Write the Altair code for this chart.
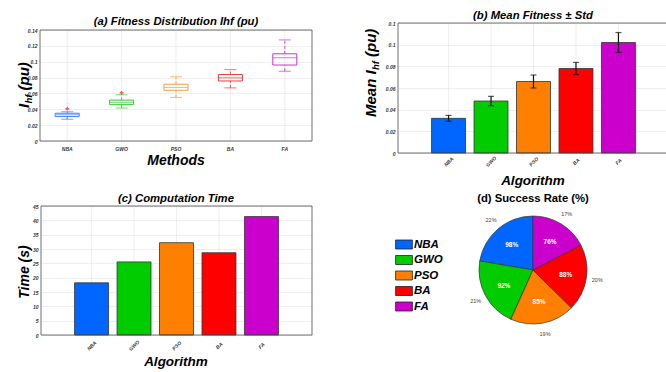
import altair as alt
import pandas as pd

FONT = "Liberation Sans"

algorithms = ["NBA", "GWO", "PSO", "BA", "FA"]
bar_colors = ["#0066ff", "#00cc00", "#ff8000", "#ff0000", "#cc00cc"]
box_colors = ["#3d84f0", "#2fcc2f", "#ff9a33", "#ee3b3b", "#cc33cc"]

# (a) box-plot statistics of Ihf for each method
whisker_low = [0.0275, 0.0416, 0.0550, 0.0670, 0.0880]
quart_1 = [0.0308, 0.0458, 0.0640, 0.0757, 0.0958]
median = [0.0330, 0.0488, 0.0675, 0.0797, 0.1050]
quart_3 = [0.0350, 0.0516, 0.0716, 0.0838, 0.1100]
whisker_high = [0.0370, 0.0583, 0.0810, 0.0900, 0.1275]
outlier_method = ["NBA", "GWO"]
outlier_value = [0.0408, 0.0608]

# (b) mean fitness and its standard deviation
mean_ihf = [0.032, 0.048, 0.066, 0.078, 0.102]
std_ihf = [0.0027, 0.0043, 0.0060, 0.0056, 0.0092]

# (c) computation time in seconds
time_s = [18.2, 25.5, 32.2, 28.7, 41.3]

# (d) success rate in percent
success_rate = [98, 92, 85, 88, 76]
slice_order = [4, 3, 2, 1, 0]

ticks_a = [0, 0.02, 0.04, 0.06, 0.08, 0.1, 0.12, 0.14]
ticks_b = [0, 0.02, 0.04, 0.06, 0.08, 0.1, 0.12]
ticks_c = [0, 5, 10, 15, 20, 25, 30, 35, 40, 45]

W, H = 666, 372
TITLE_SIZE = 11.3

box_df = pd.DataFrame({
    "alg": algorithms, "lo": whisker_low, "q1": quart_1, "med": median,
    "q3": quart_3, "hi": whisker_high,
})
out_df = pd.DataFrame({"alg": outlier_method, "v": outlier_value})
mean_df = pd.DataFrame({"alg": algorithms, "mean": mean_ihf, "std": std_ihf})
time_df = pd.DataFrame({"alg": algorithms, "t": time_s})
pie_df = pd.DataFrame({"alg": algorithms, "rate": success_rate, "slice": slice_order})
alg_df = pd.DataFrame({"alg": algorithms})

GRID = "#e3e3e3"
FRAME = "#4a4a4a"


def y_axis(offset, values):
    return alt.Axis(
        orient="left", offset=offset, values=values, format="~g", title=None,
        labelFont=FONT, labelFontSize=5, labelFontStyle="italic", labelFontWeight="bold",
        labelColor="#333333", labelPadding=3, labelFlush=False, labelOverlap=False,
        ticks=False, domain=False, grid=True, gridColor=GRID, gridWidth=0.6,
    )


def x_axis(offset, angle, pad):
    return alt.Axis(
        orient="bottom", offset=offset, title=None, labelAngle=angle,
        labelAlign="center", labelBaseline="middle", labelPadding=pad,
        labelFont=FONT, labelFontSize=5, labelFontStyle="italic", labelFontWeight="bold",
        labelColor="#333333", labelFlush=False, labelOverlap=False,
        ticks=False, domain=False, grid=False,
    )


def text(t, x, y, size, italic=True, angle=0, align="center", color="black", weight="bold"):
    return alt.Chart(pd.DataFrame({"t": [t]})).mark_text(
        font=FONT, fontSize=size, fontStyle="italic" if italic else "normal",
        fontWeight=weight, angle=angle, align=align, baseline="alphabetic", color=color,
    ).encode(text="t:N", x=alt.value(x), y=alt.value(y))


def frame(x0, x1, y0, y1):
    return alt.Chart(pd.DataFrame({"f": [0]})).mark_rect(
        fillOpacity=0, stroke=FRAME, strokeWidth=0.8
    ).encode(x=alt.value(x0), x2=alt.value(x1), y=alt.value(y0), y2=alt.value(y1))


def x_grid(xs, xax, ys, yax, top):
    return alt.Chart(alg_df).mark_rule(color=GRID, strokeWidth=0.6).encode(
        x=alt.X("alg:N", scale=xs, axis=xax, sort=algorithms),
        y=alt.YDatum(top, scale=ys, axis=yax),
        y2=alt.Y2Datum(0),
    )


# ---------- (a) box plot ----------
XA = alt.Scale(domain=algorithms, range=[40, 312], paddingInner=0, paddingOuter=0)
YA = alt.Scale(domain=[0, 0.14], range=[141, 30], nice=False)
XAX_A = x_axis(141 - H, 0, 7)
YAX_A = y_axis(-40, ticks_a)
xa = alt.X("alg:N", scale=XA, axis=XAX_A, sort=algorithms)
box_col = alt.Color("alg:N", scale=alt.Scale(domain=algorithms, range=box_colors), legend=None)

base_a = alt.Chart(box_df)
panel_a = alt.layer(
    x_grid(XA, XAX_A, YA, YAX_A, 0.14),
    base_a.mark_rule(strokeDash=[3, 2], strokeWidth=0.9).encode(
        x=xa, y=alt.Y("lo:Q", scale=YA, axis=YAX_A), y2="q1:Q", color=box_col),
    base_a.mark_rule(strokeDash=[3, 2], strokeWidth=0.9).encode(
        x=xa, y=alt.Y("q3:Q", scale=YA, axis=YAX_A), y2="hi:Q", color=box_col),
    base_a.mark_tick(size=12, thickness=1).encode(
        x=xa, y=alt.Y("lo:Q", scale=YA, axis=YAX_A), color=box_col),
    base_a.mark_tick(size=12, thickness=1).encode(
        x=xa, y=alt.Y("hi:Q", scale=YA, axis=YAX_A), color=box_col),
    base_a.mark_bar(filled=False, width=24, strokeWidth=1).encode(
        x=xa, y=alt.Y("q1:Q", scale=YA, axis=YAX_A), y2="q3:Q", color=box_col),
    base_a.mark_tick(size=24, thickness=1).encode(
        x=xa, y=alt.Y("med:Q", scale=YA, axis=YAX_A), color=box_col),
    alt.Chart(out_df).mark_point(shape="cross", filled=True, size=14, color="#ff1a1a").encode(
        x=alt.X("alg:N", scale=XA, axis=XAX_A, sort=algorithms),
        y=alt.Y("v:Q", scale=YA, axis=YAX_A)),
    frame(40, 312, 30, 141),
)

# ---------- (b) mean fitness with std error bars ----------
XB = alt.Scale(domain=algorithms, range=[398, 669], paddingInner=0.2, paddingOuter=0.79)
YB = alt.Scale(domain=[0, 0.12], range=[153, 23], nice=False)
XAX_B = x_axis(153 - H, -45, 8)
YAX_B = y_axis(-398, ticks_b)
xb = alt.X("alg:N", scale=XB, axis=XAX_B, sort=algorithms)
bar_col = alt.Color("alg:N", scale=alt.Scale(domain=algorithms, range=bar_colors), legend=None)

base_b = alt.Chart(mean_df).transform_calculate(
    lo="datum.mean - datum.std", hi="datum.mean + datum.std")
panel_b = alt.layer(
    x_grid(XB, XAX_B, YB, YAX_B, 0.12),
    base_b.mark_bar(stroke="#333333", strokeWidth=0.8).encode(
        x=xb, y=alt.Y("mean:Q", scale=YB, axis=YAX_B), color=bar_col),
    base_b.mark_rule(color="#111111", strokeWidth=1.2).encode(
        x=xb, y=alt.Y("lo:Q", scale=YB, axis=YAX_B), y2="hi:Q"),
    base_b.mark_tick(size=6, thickness=1.2, color="#111111").encode(
        x=xb, y=alt.Y("lo:Q", scale=YB, axis=YAX_B)),
    base_b.mark_tick(size=6, thickness=1.2, color="#111111").encode(
        x=xb, y=alt.Y("hi:Q", scale=YB, axis=YAX_B)),
    frame(398, 669, 23, 153),
)

# ---------- (c) computation time ----------
XC = alt.Scale(domain=algorithms, range=[41, 312], paddingInner=0.2, paddingOuter=0.79)
YC = alt.Scale(domain=[0, 45], range=[335, 206], nice=False)
XAX_C = x_axis(335 - H, -45, 10)
YAX_C = y_axis(-41, ticks_c)
panel_c = alt.layer(
    x_grid(XC, XAX_C, YC, YAX_C, 45),
    alt.Chart(time_df).mark_bar(stroke="#333333", strokeWidth=0.8).encode(
        x=alt.X("alg:N", scale=XC, axis=XAX_C, sort=algorithms),
        y=alt.Y("t:Q", scale=YC, axis=YAX_C),
        color=bar_col),
    frame(41, 312, 206, 335),
)

# ---------- (d) success-rate pie ----------
pie_legend = alt.Legend(
    orient="none", legendX=397.5, legendY=238, title=None, padding=0,
    symbolType="M-1.4,-0.75H1.4V0.75H-1.4Z", symbolSize=144,
    symbolStrokeColor="#222222", symbolStrokeWidth=0.8, symbolOpacity=1,
    labelFont=FONT, labelFontSize=11.5, labelFontStyle="italic", labelFontWeight="bold",
    labelColor="black", labelOffset=3.5, rowPadding=2.5,
)
theta = alt.Theta("rate:Q", stack=True)
order = alt.Order("slice:Q")
base_d = alt.Chart(pie_df).transform_joinaggregate(total="sum(rate)").transform_calculate(
    share="format(datum.rate / datum.total, '.0%')", inner="datum.rate + '%'")
panel_d = alt.layer(
    base_d.mark_arc(outerRadius=54, stroke="#333333", strokeWidth=0.7).encode(
        theta=theta, order=order,
        color=alt.Color("alg:N", scale=alt.Scale(domain=algorithms, range=bar_colors),
                        legend=pie_legend),
        x=alt.value(533), y=alt.value(270)),
    base_d.mark_text(radius=33, font=FONT, fontSize=6.5, fontWeight="bold", color="white").encode(
        theta=theta, order=order, detail="alg:N", text="inner:N",
        x=alt.value(533), y=alt.value(270)),
    base_d.mark_text(radius=65, font=FONT, fontSize=5.5, color="#444444").encode(
        theta=theta, order=order, detail="alg:N", text="share:N",
        x=alt.value(533), y=alt.value(270)),
)

# ---------- titles (y titles are built piecewise for the subscript) ----------
titles = [
    text("(a) Fitness Distribution Ihf (pu)", 176, 25, TITLE_SIZE),
    text("Methods", 176, 165, 14),
    text("I", 28.5, 108, 15, angle=270, align="left"),
    text("hf", 31.5, 103.5, 9.5, angle=270, align="left"),
    text("(pu)", 28.5, 90.5, 15, angle=270, align="left"),
    text("(b) Mean Fitness \u00b1 Std", 533, 19, TITLE_SIZE),
    text("Algorithm", 533, 185, 13.5),
    text("Mean", 376, 117, 15, angle=270, align="left"),
    text("I", 376, 74.5, 15, angle=270, align="left"),
    text("hf", 379, 70, 9.5, angle=270, align="left"),
    text("(pu)", 376, 57, 15, angle=270, align="left"),
    text("(c) Computation Time", 176, 202, TITLE_SIZE),
    text("Algorithm", 176, 366, 13.5),
    text("Time (s)", 29, 272, 14, angle=270),
    text("(d) Success Rate (%)", 533, 202, TITLE_SIZE, italic=False),
]

chart = alt.layer(panel_a, panel_b, panel_c, panel_d, *titles).resolve_scale(
    x="independent", y="independent", color="independent"
).properties(
    width=W, height=H, padding=0, background="white",
    autosize=alt.AutoSizeParams(type="none"),
).configure_view(stroke=None)

chart.save("out.html", embed_options={"renderer": "svg", "actions": False})
